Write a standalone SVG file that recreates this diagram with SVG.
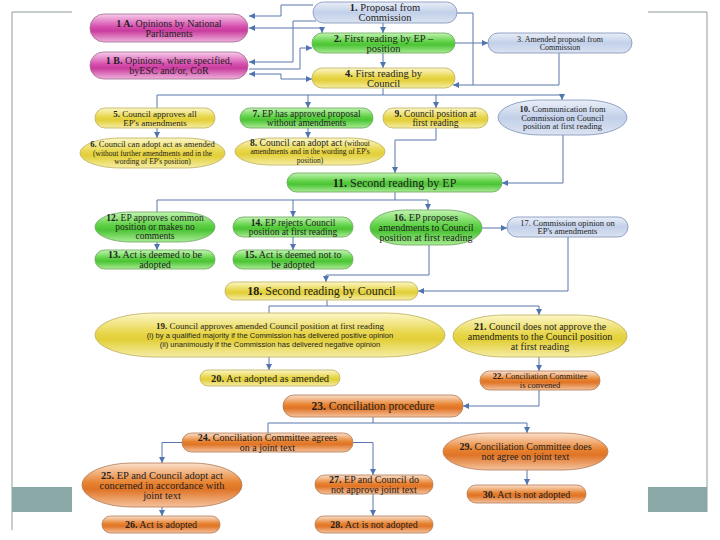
<svg xmlns="http://www.w3.org/2000/svg" width="720" height="540" viewBox="0 0 720 540">
<defs>
<linearGradient id="gPk" x1="0" y1="0" x2="0" y2="1"><stop offset="0" stop-color="#f7cdea"/><stop offset="0.45" stop-color="#d64fae"/><stop offset="0.6" stop-color="#c93c9d"/><stop offset="1" stop-color="#efb0dc"/></linearGradient>
<linearGradient id="gGr" x1="0" y1="0" x2="0" y2="1"><stop offset="0" stop-color="#c2f5b2"/><stop offset="0.45" stop-color="#5cd043"/><stop offset="0.6" stop-color="#4cc436"/><stop offset="1" stop-color="#a9ec93"/></linearGradient>
<linearGradient id="gYe" x1="0" y1="0" x2="0" y2="1"><stop offset="0" stop-color="#fcf7c8"/><stop offset="0.45" stop-color="#e8d64c"/><stop offset="0.6" stop-color="#e2cf38"/><stop offset="1" stop-color="#f6eda6"/></linearGradient>
<linearGradient id="gBl" x1="0" y1="0" x2="0" y2="1"><stop offset="0" stop-color="#eaeff8"/><stop offset="0.5" stop-color="#c2d0e9"/><stop offset="1" stop-color="#dbe3f2"/></linearGradient>
<linearGradient id="gOr" x1="0" y1="0" x2="0" y2="1"><stop offset="0" stop-color="#fbe0cc"/><stop offset="0.45" stop-color="#e7822f"/><stop offset="0.6" stop-color="#e07426"/><stop offset="1" stop-color="#f5c39e"/></linearGradient>
<marker id="ar" viewBox="0 0 6 6" refX="6" refY="3" markerWidth="6" markerHeight="6" markerUnits="userSpaceOnUse" orient="auto-start-reverse"><path d="M0,0 L6,3 L0,6 z" fill="#4f74b0"/></marker>
</defs>
<style>
.pk{fill:url(#gPk);stroke:#a0708f;stroke-width:0.8}
.gr{fill:url(#gGr);stroke:#6aa35c;stroke-width:0.8}
.ye{fill:url(#gYe);stroke:#bcae5a;stroke-width:0.8}
.bl{fill:url(#gBl);stroke:#7c8fb6;stroke-width:0.8}
.or{fill:url(#gOr);stroke:#b07a54;stroke-width:0.8}
.t{font-family:"Liberation Serif","Times New Roman",serif;fill:#1e1e1e;text-anchor:middle}
.s{font-family:"Liberation Sans",Arial,sans-serif;fill:#1e1e1e;text-anchor:middle}
.b{font-weight:bold}
.c path{fill:none;stroke:#5878ad;stroke-width:1}
.a{marker-end:url(#ar)}
.a2{marker-start:url(#ar);marker-end:url(#ar)}
.fr{fill:none;stroke:#8c9c9c;stroke-width:1}
</style>
<rect width="720" height="540" fill="#ffffff"/>
<g id="frame">
<path class="fr" d="M72,12 H12 V530"/>
<path class="fr" d="M648,12 H707 V512"/>
<rect x="12" y="487" width="60" height="25" fill="#8aa8a6"/>
<rect x="648" y="487" width="59" height="25" fill="#8aa8a6"/>
</g>
<g id="connectors" class="c">
<path class="a" d="M383,23 V33"/>
<path class="a" d="M383,53 V68"/>
<path class="a" d="M455,43 H488"/>
<path class="a" d="M457,13 H473 V85 H453"/>
<path d="M559,53 V85 H473"/>
<path class="a" d="M313,5 H281 V16 H249"/>
<path class="a2" d="M249,28 H322 V33"/>
<path class="a" d="M316,21 H293 V62 H249"/>
<path class="a" d="M249,69 H300 V48 H312"/>
<path class="a2" d="M249,74 H281 V79 H312"/>
<path d="M383,88 V95"/>
<path class="a" d="M157,108 V95 H562 V100"/>
<path class="a" d="M308,95 V108"/>
<path class="a" d="M436,95 V108"/>
<path class="a" d="M157,128 V138"/>
<path class="a" d="M308,128 V138"/>
<path class="a" d="M436,128 V140 H395 V173"/>
<path class="a" d="M563,135 V183 H502"/>
<path d="M395,192 V200"/>
<path class="a" d="M157,212 V200 H428 V210"/>
<path class="a" d="M293,200 V217"/>
<path class="a" d="M157,242 V250"/>
<path class="a" d="M293,237 V250"/>
<path class="a" d="M482,228 H507"/>
<path class="a" d="M429,245 V275 H326 V282"/>
<path class="a" d="M568,237 V291 H418"/>
<path d="M327,300 V306"/>
<path class="a" d="M269,313 V306 H539 V315"/>
<path class="a" d="M269,357 V370"/>
<path class="a" d="M539,357 V371"/>
<path class="a" d="M539,390 V406 H463"/>
<path d="M373,417 V423"/>
<path class="a" d="M268,433 V423 H527 V433"/>
<path class="a" d="M182,442.5 H162 V463"/>
<path class="a" d="M353,442.5 H373 V475"/>
<path class="a" d="M162,507 V516"/>
<path class="a" d="M373,494 V516"/>
<path class="a" d="M527,470 V485"/>
</g>
<g id="n1"><rect class="bl" x="313" y="2" width="144" height="21" rx="10.5"/><text class="t" font-size="10.5"><tspan x="385" y="11.2"><tspan class="b">1.</tspan> Proposal from</tspan><tspan x="385" y="21.2">Commission</tspan></text></g>
<g id="n1A"><rect class="pk" x="90" y="14" width="158" height="28" rx="14"/><text class="t" font-size="10"><tspan x="169" y="26.5"><tspan class="b">1 A.</tspan> Opinions by National</tspan><tspan x="169" y="36.5">Parliaments</tspan></text></g>
<g id="n1B"><rect class="pk" x="90" y="52" width="158" height="27" rx="13.5"/><text class="t" font-size="10"><tspan x="169" y="64"><tspan class="b">1 B.</tspan> Opinions, where specified,</tspan><tspan x="169" y="74">byESC and/or, CoR</tspan></text></g>
<g id="n2"><rect class="gr" x="312" y="33" width="143" height="20" rx="10"/><text class="t" font-size="10.5"><tspan x="383.5" y="41.7"><tspan class="b">2.</tspan> First reading by EP –</tspan><tspan x="383.5" y="51.7">position</tspan></text></g>
<g id="n3"><rect class="bl" x="488" y="33" width="144" height="20" rx="10"/><text class="t" font-size="8"><tspan x="560" y="41.5">3. Amended proposal from</tspan><tspan x="560" y="50.2">Commission</tspan></text></g>
<g id="n4"><rect class="ye" x="312" y="68" width="143" height="20" rx="10"/><text class="t" font-size="10.5"><tspan x="383.5" y="76.7"><tspan class="b">4.</tspan> First reading by</tspan><tspan x="383.5" y="86.7">Council</tspan></text></g>
<g id="n5"><rect class="ye" x="95" y="108" width="120" height="20" rx="10"/><text class="t" font-size="9"><tspan x="155" y="116.6"><tspan class="b">5.</tspan> Council approves all</tspan><tspan x="155" y="125.6">EP's amendments</tspan></text></g>
<g id="n6"><rect class="ye" x="80" y="138" width="145" height="30" rx="40" ry="15"/><text class="t" font-size="7.5"><tspan x="152.5" y="147.3" font-size="8.5"><tspan class="b">6.</tspan> Council can adopt act as amended</tspan><tspan x="152.5" y="155.8">(without further amendments and in the</tspan><tspan x="152.5" y="164.3">wording of EP's position)</tspan></text></g>
<g id="n7"><rect class="gr" x="240" y="108" width="133" height="20" rx="10"/><text class="t" font-size="9.5"><tspan x="306.5" y="116.8"><tspan class="b">7.</tspan> EP has approved proposal</tspan><tspan x="306.5" y="125.8">without amendments</tspan></text></g>
<g id="n8"><rect class="ye" x="235" y="138" width="150" height="27" rx="35" ry="13.5"/><text class="t" font-size="7.5"><tspan x="310" y="145.8"><tspan font-size="9.5"><tspan class="b">8.</tspan> Council can adopt act </tspan>(without</tspan><tspan x="310" y="154.3">amendments and in the wording of EP's</tspan><tspan x="310" y="162.8">position)</tspan></text></g>
<g id="n9"><rect class="ye" x="383" y="108" width="105" height="20" rx="10"/><text class="t" font-size="9.5"><tspan x="435.5" y="116.8"><tspan class="b">9.</tspan> Council position at</tspan><tspan x="435.5" y="125.8">first reading</tspan></text></g>
<g id="n10"><rect class="bl" x="498" y="100" width="129" height="35" rx="42" ry="17.5"/><text class="t" font-size="8.5"><tspan x="562.5" y="112"><tspan class="b">10.</tspan> Communication from</tspan><tspan x="562.5" y="120.5">Commission on Council</tspan><tspan x="562.5" y="129">position at first reading</tspan></text></g>
<g id="n11"><rect class="gr" x="287" y="173" width="215" height="19" rx="9.5"/><text class="t" font-size="12" x="394.5" y="186.7"><tspan class="b">11.</tspan> Second reading by EP</text></g>
<g id="n12"><rect class="gr" x="95" y="212" width="120" height="30" rx="35" ry="15"/><text class="t" font-size="9.5"><tspan x="155" y="221.3"><tspan class="b">12.</tspan> EP approves common</tspan><tspan x="155" y="230.3">position or makes no</tspan><tspan x="155" y="239.3">comments</tspan></text></g>
<g id="n13"><rect class="gr" x="95" y="250" width="120" height="19" rx="9.5"/><text class="t" font-size="10"><tspan x="155" y="258.3"><tspan class="b">13.</tspan> Act is deemed to be</tspan><tspan x="155" y="267.8">adopted</tspan></text></g>
<g id="n14"><rect class="gr" x="233" y="217" width="120" height="20" rx="10"/><text class="t" font-size="9.5"><tspan x="293" y="225.8"><tspan class="b">14.</tspan> EP rejects Council</tspan><tspan x="293" y="234.8">position at first reading</tspan></text></g>
<g id="n15"><rect class="gr" x="233" y="250" width="120" height="19" rx="9.5"/><text class="t" font-size="10"><tspan x="293" y="258.3"><tspan class="b">15.</tspan> Act is deemed not to</tspan><tspan x="293" y="267.8">be adopted</tspan></text></g>
<g id="n16"><rect class="gr" x="370" y="210" width="112" height="35" rx="35" ry="17.5"/><text class="t" font-size="10"><tspan x="426" y="221"><tspan class="b">16.</tspan> EP proposes</tspan><tspan x="426" y="231">amendments to Council</tspan><tspan x="426" y="241">position at first reading</tspan></text></g>
<g id="n17"><rect class="bl" x="507" y="217" width="121" height="20" rx="10"/><text class="t" font-size="8.5"><tspan x="567.5" y="225.8">17. Commission opinion on</tspan><tspan x="567.5" y="234.3">EP's amendments</tspan></text></g>
<g id="n18"><rect class="ye" x="225" y="282" width="193" height="18" rx="9"/><text class="t" font-size="12" x="321.5" y="295.2"><tspan class="b">18.</tspan> Second reading by Council</text></g>
<g id="n19"><rect class="ye" x="95" y="313" width="350" height="44" rx="60" ry="22"/><text class="t" font-size="9" x="270" y="329"><tspan class="b">19.</tspan> Council approves amended Council position at first reading</text><text class="s" font-size="7.6"><tspan x="270" y="338">(i) by a qualified majority if the Commission has delivered positive opinion</tspan><tspan x="270" y="347">(ii) unanimously if the Commission has delivered negative opinion</tspan></text></g>
<g id="n20"><rect class="ye" x="200" y="370" width="140" height="16" rx="8"/><text class="t" font-size="10.5" x="270" y="381.7"><tspan class="b">20.</tspan> Act adopted as amended</text></g>
<g id="n21"><rect class="ye" x="453" y="315" width="174" height="42" rx="50" ry="21"/><text class="t" font-size="10"><tspan x="540" y="329.5"><tspan class="b">21.</tspan> Council does not approve the</tspan><tspan x="540" y="339.5">amendments to the Council position</tspan><tspan x="540" y="349.5">at first reading</tspan></text></g>
<g id="n22"><rect class="or" x="480" y="371" width="120" height="19" rx="9.5"/><text class="t" font-size="8.5"><tspan x="540" y="379.3"><tspan class="b">22.</tspan> Conciliation Committee</tspan><tspan x="540" y="388">is convened</tspan></text></g>
<g id="n23"><rect class="or" x="283" y="395" width="180" height="22" rx="11"/><text class="t" font-size="11.5" x="373" y="410"><tspan class="b">23.</tspan> Conciliation procedure</text></g>
<g id="n24"><rect class="or" x="182" y="433" width="171" height="19" rx="9.5"/><text class="t" font-size="10"><tspan x="267.5" y="441.3"><tspan class="b">24.</tspan> Conciliation Committee agrees</tspan><tspan x="267.5" y="450.8">on a joint text</tspan></text></g>
<g id="n25"><rect class="or" x="82" y="463" width="160" height="44" rx="50" ry="22"/><text class="t" font-size="10.5"><tspan x="162" y="478.7"><tspan class="b">25.</tspan> EP and Council adopt act</tspan><tspan x="162" y="488.7">concerned in accordance with</tspan><tspan x="162" y="498.7">joint text</tspan></text></g>
<g id="n26"><rect class="or" x="102" y="516" width="118" height="17" rx="8.5"/><text class="t" font-size="10" x="161" y="528"><tspan class="b">26.</tspan> Act is adopted</text></g>
<g id="n27"><rect class="or" x="315" y="475" width="118" height="19" rx="9.5"/><text class="t" font-size="10"><tspan x="374" y="483.3"><tspan class="b">27.</tspan> EP and Council do</tspan><tspan x="374" y="492.8">not approve joint text</tspan></text></g>
<g id="n28"><rect class="or" x="315" y="516" width="118" height="17" rx="8.5"/><text class="t" font-size="10" x="374" y="528"><tspan class="b">28.</tspan> Act is not adopted</text></g>
<g id="n29"><rect class="or" x="443" y="433" width="165" height="37" rx="45" ry="18.5"/><text class="t" font-size="10"><tspan x="525.5" y="450"><tspan class="b">29.</tspan> Conciliation Committee does</tspan><tspan x="525.5" y="460">not agree on joint text</tspan></text></g>
<g id="n30"><rect class="or" x="467" y="485" width="119" height="18" rx="9"/><text class="t" font-size="10" x="526.5" y="497.5"><tspan class="b">30.</tspan> Act is not adopted</text></g>
</svg>
